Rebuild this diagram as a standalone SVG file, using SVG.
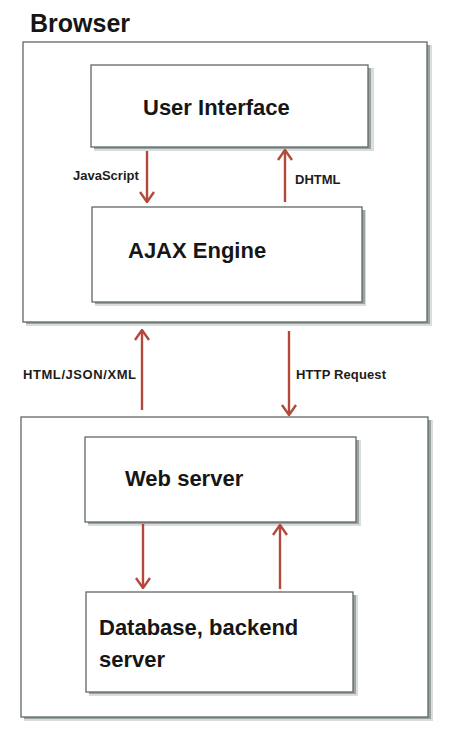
<svg xmlns="http://www.w3.org/2000/svg" width="457" height="741" viewBox="0 0 457 741">
<defs>
<style>
.box{fill:#ffffff;stroke:#5f6868;stroke-width:1.3}
.shadow{fill:#9ba2a2}
.halo{fill:#d9dddd}
.big{font-family:"Liberation Sans",Arial,sans-serif;font-weight:bold;font-size:22px;fill:#161616}
.title{font-family:"Liberation Sans",Arial,sans-serif;font-weight:bold;font-size:25px;fill:#161616}
.lbl{font-family:"Liberation Sans",Arial,sans-serif;font-weight:bold;font-size:13px;fill:#1c1c1c}
.arr{stroke:#b14a3c;stroke-width:2.4;fill:none}
</style>
<marker id="head" viewBox="0 0 12 16" refX="11" refY="8" markerWidth="12" markerHeight="16" markerUnits="userSpaceOnUse" orient="auto">
<path d="M1,1 L11,8 L1,15" fill="none" stroke="#b14a3c" stroke-width="2.4" stroke-linejoin="miter"/>
</marker>
</defs>
<rect width="457" height="741" fill="#ffffff"/>
<text class="title" x="30" y="32">Browser</text>

<g id="browser">
<rect class="halo" x="26" y="45" width="406" height="281"/>
<rect class="shadow" x="26" y="45" width="404" height="279"/>
<rect class="box" x="23" y="42" width="404" height="280"/>
</g>

<g id="user-interface">
<rect class="halo" x="94" y="68" width="280" height="83"/>
<rect class="shadow" x="94" y="68" width="277" height="81"/>
<rect class="box" x="91" y="65" width="277" height="82"/>
<text class="big" x="143" y="115">User Interface</text>
</g>

<g id="ajax-engine">
<rect class="halo" x="95" y="210" width="271" height="96"/>
<rect class="shadow" x="95" y="210" width="270" height="94"/>
<rect class="box" x="92" y="207" width="270" height="95"/>
<text class="big" x="128" y="258">AJAX Engine</text>
</g>

<g id="server-side">
<rect class="halo" x="24" y="420" width="409" height="301"/>
<rect class="shadow" x="24" y="420" width="407" height="299"/>
<rect class="box" x="21" y="417" width="407" height="300"/>
</g>

<g id="web-server">
<rect class="halo" x="88" y="440" width="273" height="86"/>
<rect class="shadow" x="88" y="440" width="271" height="84"/>
<rect class="box" x="85" y="437" width="271" height="85"/>
<text class="big" x="125" y="486">Web server</text>
</g>

<g id="database">
<rect class="halo" x="89" y="595" width="269" height="101"/>
<rect class="shadow" x="89" y="595" width="267" height="99"/>
<rect class="box" x="86" y="592" width="267" height="100"/>
<text class="big" x="99" y="635">Database, backend</text>
<text class="big" x="99" y="667">server</text>
</g>

<g id="connectors">
<line class="arr" x1="147" y1="151" x2="147" y2="202" marker-end="url(#head)"/>
<text class="lbl" x="73" y="180">JavaScript</text>
<line class="arr" x1="285" y1="202" x2="285" y2="150" marker-end="url(#head)"/>
<text class="lbl" x="295" y="184">DHTML</text>
<line class="arr" x1="142" y1="410" x2="142" y2="330" marker-end="url(#head)"/>
<text class="lbl" x="23" y="379" textLength="113">HTML/JSON/XML</text>
<line class="arr" x1="289" y1="331" x2="289" y2="415" marker-end="url(#head)"/>
<text class="lbl" x="296" y="379" textLength="90">HTTP Request</text>
<line class="arr" x1="143" y1="524" x2="143" y2="588" marker-end="url(#head)"/>
<line class="arr" x1="280" y1="589" x2="280" y2="525" marker-end="url(#head)"/>
</g>
</svg>
